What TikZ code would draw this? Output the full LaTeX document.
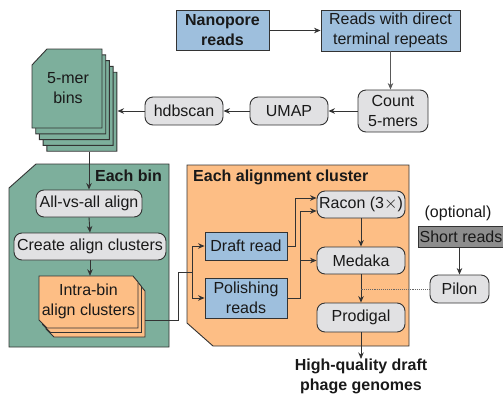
\documentclass[tikz,border=0pt]{standalone}
\usepackage{fontspec}
\setsansfont{Liberation Sans}
\usetikzlibrary{arrows.meta,calc}
\definecolor{greenc}{HTML}{7DAF9C}
\definecolor{orangec}{HTML}{FDBE85}
\definecolor{bluec}{HTML}{9EBFDD}
\definecolor{grayc}{HTML}{E1E1E3}
\definecolor{darkg}{HTML}{8D8D8D}
\definecolor{edgec}{HTML}{333333}
\tikzset{
  base/.style={draw=edgec, line width=0.9pt, inner sep=0pt, align=center, text=black!90},
  bluebox/.style={base, fill=bluec, rectangle},
  proc/.style={base, fill=grayc, rounded corners=8pt},
  arr/.style={-{Stealth[length=6.5pt,width=5.5pt]}, draw=edgec, line width=0.9pt},
  plain/.style={draw=edgec, line width=0.9pt},
  card/.style={draw=edgec, line width=0.9pt},
  ghost/.style={inner sep=0pt, draw=none, align=center, text=black!90},
  boldtxt/.style={font=\sffamily\bfseries\fontsize{16}{20}\selectfont},
}
\begin{document}
\begin{tikzpicture}[x=1pt,y=-1pt, font=\sffamily\fontsize{16}{20}\selectfont]
\useasboundingbox (0,0) rectangle (503,397);

% top row
\node[bluebox, minimum width=93pt, minimum height=40pt, boldtxt] (nano) at (222.5,30.5) {Nanopore\\reads};
\node[bluebox, minimum width=139pt, minimum height=41pt] (reads) at (390.5,30.5) {Reads with direct\\terminal repeats};
\node[proc, minimum width=70pt, minimum height=42pt] (count) at (393,111) {Count\\5-mers};
\node[proc, minimum width=78pt, minimum height=28pt] (umap) at (289,111) {UMAP};
\node[proc, minimum width=78pt, minimum height=28pt] (hdb) at (184,111) {hdbscan};

% 5-mer bins stack
\foreach \i in {4,3,2,1} {
  \path[card, fill=greenc, shift={(3.7*\i,5.8*\i)}] (32,65) -- (47,49) -- (102,49) -- (102,128) -- (32,128) -- cycle;
}
\path[card, fill=greenc] (32,65) -- (47,49) -- (102,49) -- (102,128) -- (32,128) -- cycle;
\node[ghost] (bins) at (68,88) {5-mer\\bins};
\node[ghost, minimum width=85pt, minimum height=103pt] (binstack) at (74.8,100.7) {};

\draw[arr] (nano.east) -- (reads.west);
\draw[arr, draw=black!65] (reads.south) -- (reads.south |- count.north);
\draw[arr] (count.west) -- (umap.east);
\draw[arr] (umap.west) -- (hdb.east);
\draw[arr] (hdb.west) -- (hdb.west -| binstack.east);

% green panel
\path[card, fill=greenc] (9,188) -- (36,164) -- (169,164) -- (169,347) -- (9,347) -- cycle;
\node[ghost, anchor=east, boldtxt] (eachbin) at (162,176) {Each bin};
\node[proc, minimum width=106pt, minimum height=27pt] (allvs) at (89,203.5) {All-vs-all align};
\node[proc, minimum width=152pt, minimum height=27pt] (create) at (90,246.5) {Create align clusters};

% intra-bin stack
\foreach \i in {2,1} {
  \path[card, fill=orangec, shift={(3.5*\i,4.5*\i)}] (39,276) -- (133,276) -- (138,282) -- (138,328) -- (47,328) -- (39,320) -- cycle;
}
\path[card, fill=orangec] (39,276) -- (133,276) -- (138,282) -- (138,328) -- (47,328) -- (39,320) -- cycle;
\node[ghost] (intratext) at (88.5,301) {Intra-bin\\align clusters};
\node[ghost, minimum width=106pt, minimum height=61pt] (intra) at (92,306.5) {};

\draw[arr] (allvs.north |- binstack.south) -- (allvs.north);
\draw[arr] (allvs.south) -- (create.north);
\draw[arr] (create.south) -- (create.south |- intra.north);

% orange panel
\path[card, fill=orangec] (187,165) -- (409,165) -- (409,346) -- (213,346) -- (187,323) -- cycle;
\node[ghost, anchor=west, boldtxt] (eachal) at (193,177) {Each alignment cluster};
\node[bluebox, minimum width=82pt, minimum height=28pt] (draft) at (246,246) {Draft read};
\node[bluebox, minimum width=82pt, minimum height=40pt] (polish) at (246,298) {Polishing\\reads};
\node[proc, minimum width=88pt, minimum height=27pt] (racon) at (361,204.5) {Racon (3$\times$)};
\node[proc, minimum width=88pt, minimum height=27pt] (medaka) at (361,260.5) {Medaka};
\node[proc, minimum width=88pt, minimum height=29pt] (prodigal) at (361,317.5) {Prodigal};

\coordinate (split) at (192,272);
\draw[plain] (intra.east |- 0,320) -- (178,320) -- (178,272) -- (split);
\draw[arr] (split) |- (draft.west);
\draw[arr] (split) |- (polish.west);
\draw[arr] (draft.east) -- ++(8,0) |- ([yshift=6.5pt]racon.west);
\draw[arr] (polish.east) -- ++(13,0) coordinate (pj) |- ([yshift=-6.5pt]racon.west);
\draw[arr] (pj) |- (medaka.west);
\draw[arr] (racon.south) -- (medaka.north);
\draw[arr] (medaka.south) -- (prodigal.north);

\node[ghost, anchor=north, boldtxt] (out) at (361,359) {High-quality draft\\phage genomes};
\draw[arr] (prodigal.south) -- (out.north);

% optional
\node[ghost] (opt) at (458,213) {(optional)};
\node[base, fill=darkg, minimum width=86pt, minimum height=21pt] (short) at (461,237) {Short reads};
\node[proc, minimum width=59pt, minimum height=28pt] (pilon) at (459.5,289) {Pilon};
\draw[arr] (short.south -| pilon.north) -- (pilon.north);
\draw[densely dotted, draw=black!60, line width=0.9pt] (pilon.west) -- (medaka.south |- pilon.west);
\end{tikzpicture}
\end{document}
